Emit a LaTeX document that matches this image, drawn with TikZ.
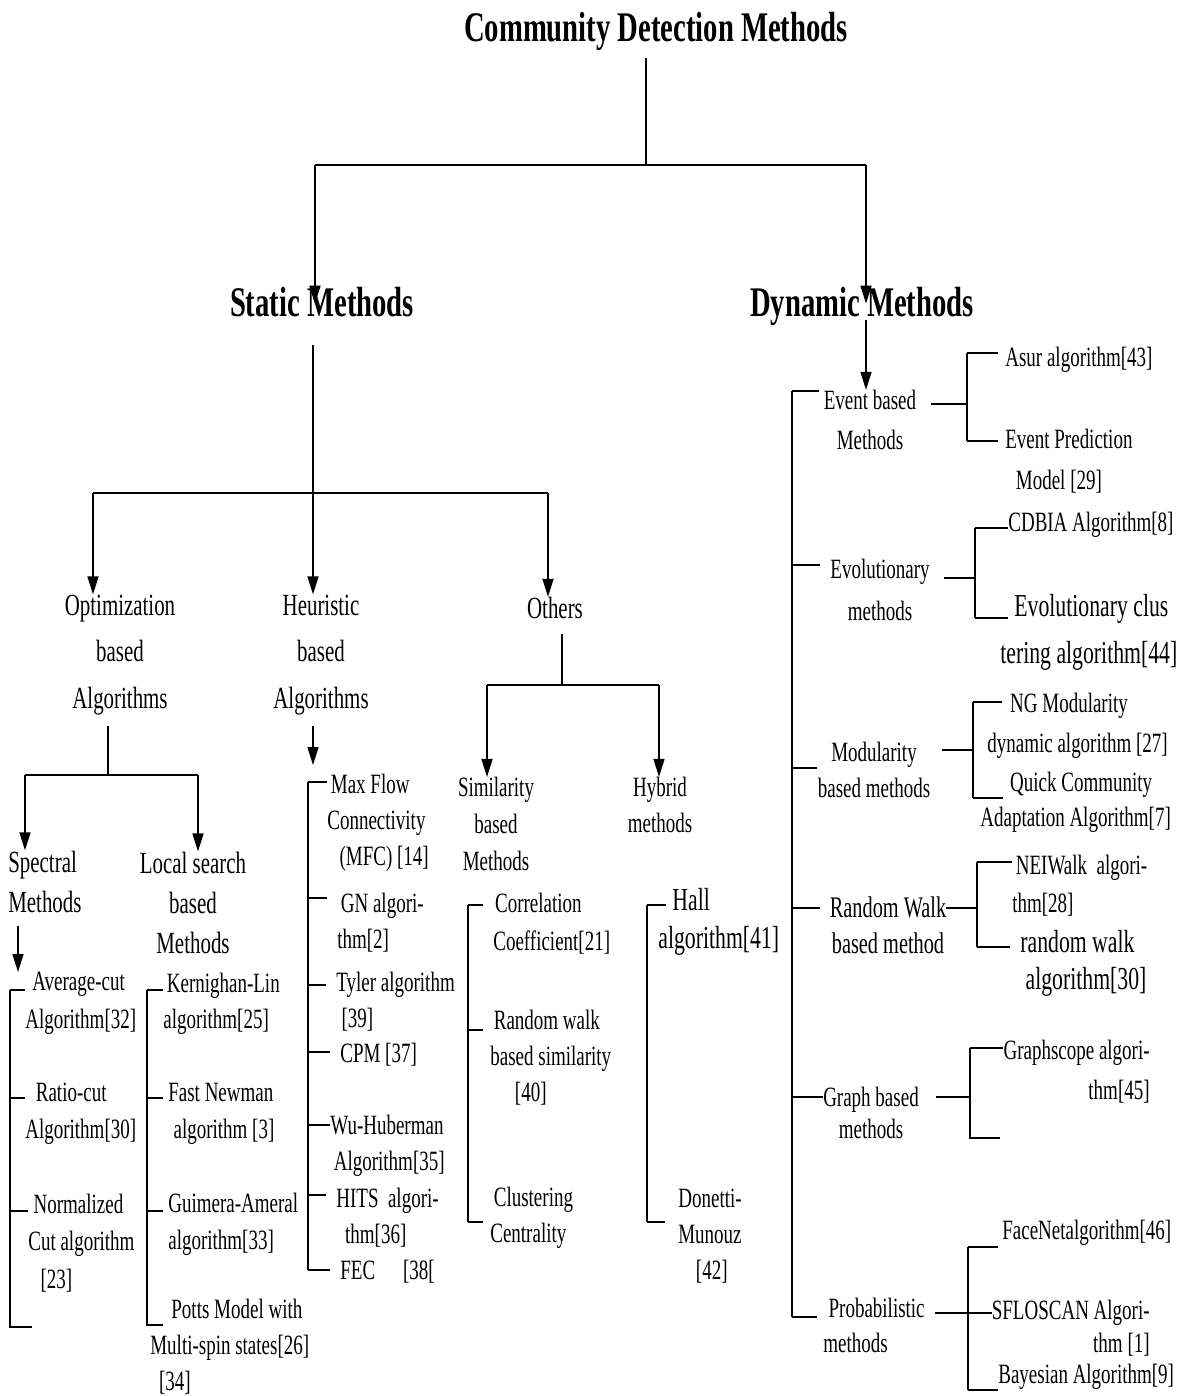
\documentclass[tikz,border=0pt]{standalone}
\usepackage{fontspec}
\setmainfont{Liberation Serif}[FakeStretch=0.68]
\newfontfamily\headfont{Liberation Serif}[FakeStretch=0.68]
\usepackage{tikz}
\usetikzlibrary{positioning, arrows.meta}

\begin{document}
\begin{tikzpicture}[
    x=0.02cm, y=-0.02cm,
    head/.style={inner sep=0pt, text height=0.7em, text depth=0.22em, font=\headfont\bfseries\fontsize{24}{28}\selectfont},
    grp/.style={inner sep=0pt, align=center, font=\fontsize{17.5}{#1}\selectfont},
    grp/.default=26.6,
    kind/.style={inner sep=0pt, align=center, font=\fontsize{15.9}{#1}\selectfont},
    kind/.default=21,
    alg/.style={inner sep=0pt, anchor=west, align=left, font=\fontsize{15.9}{#1}\selectfont},
    alg/.default=20.5,
    bigalg/.style={inner sep=0pt, anchor=west, align=left, font=\fontsize{18.2}{#1}\selectfont},
    bigalg/.default=24,
    ln/.style={line width=0.9pt},
    thinln/.style={line width=0.6pt},
    arr/.style={-{Triangle[length=0.36cm, width=0.22cm]}, line width=0.9pt}
]
\useasboundingbox[fill=white] (0,0) rectangle (1184,1396);

% top levels
\node[head] (root) at (656,37) {Community Detection Methods};
\node[head] (static) at (322,312) {Static Methods};
\node[head] (dynamic) at (862,312) {Dynamic Methods};

\coordinate (j0) at (646,165);
\coordinate (s0) at (315,165);
\coordinate (d0) at (866,165);
\draw[thinln, shorten <=0.26cm] (root.south -| j0) -- (j0);
\draw[ln] (s0) -- (d0);
\draw[arr] (s0) -- (s0 |- static.north);
\draw[arr] (d0) -- (d0 |- dynamic.north);

% static methods
\node[grp] (opt) at (120,655) {Optimization\\based\\Algorithms};
\node[grp] (heu) at (321,655) {Heuristic\\based\\Algorithms};
\node[grp] (oth) at (555,608) {Others};

\coordinate (sj) at (313,493);
\coordinate (o0) at (93,493);
\coordinate (ot0) at (548,493);
\draw[thinln, shorten <=0.5cm] (static.south -| sj) -- (sj);
\draw[ln] (o0) -- (ot0);
\draw[arr] (o0) -- (o0 |- opt.north);
\draw[arr] (sj) -- (sj |- heu.north);
\draw[arr] (ot0) -- (ot0 |- oth.north);

\node[grp=23.3, align=left, anchor=west] (spec) at (8,882) {Spectral\\Methods};
\node[grp=23] (loc) at (193,903) {Local search\\based\\Methods};
\node[kind] (sim) at (496,824) {Similarity\\based\\Methods};
\node[kind=20.4] (hyb) at (660,805) {Hybrid\\methods};

\coordinate (oq) at (108,775);
\coordinate (sp0) at (25,775);
\coordinate (lo0) at (198,775);
\draw[ln, shorten <=0.2cm] (opt.south -| oq) -- (oq);
\draw[ln] (sp0) -- (lo0);
\draw[arr] (sp0) -- (sp0 |- spec.north);
\draw[arr] (lo0) -- (lo0 |- loc.north);

\coordinate (oj) at (562,685);
\coordinate (sm0) at (487,685);
\coordinate (hy0) at (659,685);
\draw[ln, shorten <=0.3cm] (oth.south -| oj) -- (oj);
\draw[ln] (sm0) -- (hy0);
\draw[arr] (sm0) -- (sm0 |- sim.north);
\draw[arr] (hy0) -- (hy0 |- hyb.north);

\coordinate (spa) at (18,972);
\draw[arr, shorten <=0.24cm] (spec.south -| spa) -- (spa);
\coordinate (hta) at (313,765);
\draw[arr, shorten <=0.2cm] (heu.south -| hta) -- (hta);

% spectral
\node[alg=21.5] (avg) at (25,1003) {\hspace*{4pt}Average-cut\\Algorithm[32]};
\node[alg=21] (rat) at (25,1114) {\hspace*{6pt}Ratio-cut\\Algorithm[30]};
\node[alg=21.5] (nrm) at (28,1243) {\hspace*{3pt}Normalized\\Cut algorithm\\\hspace*{7pt}[23]};
\coordinate (sp1) at (10,990);
\coordinate (sp2) at (10,1098);
\coordinate (sp3) at (10,1211);
\coordinate (sp4) at (10,1327);
\coordinate (sp5) at (32,1327);
\draw[ln] (sp1) -- (sp4) -- (sp5);
\draw[ln] (sp1) -- (sp1 -| avg.west);
\draw[ln] (sp2) -- (sp2 -| rat.west);
\draw[ln] (sp3) -- (sp3 -| nrm.west);

% local search
\node[alg] (ker) at (163,1004) {\hspace*{2pt}Kernighan-Lin\\algorithm[25]};
\node[alg=21] (fnw) at (168,1114) {Fast Newman\\\hspace*{3pt}algorithm [3]};
\node[alg=21] (gui) at (168,1224) {Guimera-Ameral\\algorithm[33]};
\node[alg] (pot) at (150,1347) {\hspace*{12pt}Potts Model with\\Multi-spin states[26]\\\hspace*{5pt}[34]};
\coordinate (ls1) at (147,990);
\coordinate (ls2) at (147,1098);
\coordinate (ls3) at (147,1211);
\coordinate (ls4) at (147,1325);
\coordinate (ls5) at (163,1325);
\draw[ln] (ls1) -- (ls4) -- (ls5);
\draw[ln] (ls1) -- (ls1 -| ker.west);
\draw[ln, shorten >=0.1cm] (ls2) -- (ls2 -| fnw.west);
\draw[ln, shorten >=0.1cm] (ls3) -- (ls3 -| gui.west);

% heuristic
\node[alg] (mfc) at (327,823) {\hspace*{2pt}Max Flow\\Connectivity\\\hspace*{7pt}(MFC) [14]};
\node[alg] (gna) at (337,923) {\hspace*{2pt}GN algori-\\thm[2]};
\node[alg] (tyl) at (336,1002) {Tyler algorithm\\\hspace*{3pt}[39]};
\node[alg] (cpm) at (340,1055) {CPM [37]};
\node[alg] (wuh) at (330,1146) {Wu-Huberman\\\hspace*{2pt}Algorithm[35]};
\node[alg] (hit) at (336,1218) {HITS~~algori-\\\hspace*{5pt}thm[36]};
\node[alg] (fec) at (340,1272) {FEC\quad[38[};
\coordinate (hr1) at (308,782);
\coordinate (hr2) at (308,898);
\coordinate (hr3) at (308,985);
\coordinate (hr4) at (308,1052);
\coordinate (hr5) at (308,1125);
\coordinate (hr6) at (308,1195);
\coordinate (hr7) at (308,1270);
\draw[ln] (hr1) -- (hr7);
\draw[ln] (hr1) -- (hr1 -| mfc.west);
\draw[ln, shorten >=0.2cm] (hr2) -- (hr2 -| gna.west);
\draw[ln, shorten >=0.2cm] (hr3) -- (hr3 -| tyl.west);
\draw[ln, shorten >=0.2cm] (hr4) -- (hr4 -| cpm.west);
\draw[ln] (hr5) -- (hr5 -| wuh.west);
\draw[ln, shorten >=0.2cm] (hr6) -- (hr6 -| hit.west);
\draw[ln, shorten >=0.2cm] (hr7) -- (hr7 -| fec.west);

% similarity based
\node[alg=21.5] (cor) at (493,924) {\hspace*{1pt}Correlation\\Coefficient[21]};
\node[alg] (rws) at (490,1058) {\hspace*{2pt}Random walk\\based similarity\\\hspace*{14pt}[40]};
\node[alg] (clu) at (490,1218) {\hspace*{2pt}Clustering\\Centrality};
\coordinate (sm1) at (468,905);
\coordinate (sm2) at (468,1030);
\coordinate (sm3) at (468,1222);
\draw[ln] (sm1) -- (sm3);
\draw[ln, shorten >=0.2cm] (sm1) -- (sm1 -| cor.west);
\draw[ln, shorten >=0.14cm] (sm2) -- (sm2 -| rws.west);
\draw[ln, shorten >=0.14cm] (sm3) -- (sm3 -| clu.west);

% hybrid
\node[bigalg=22] (hal) at (658,922) {\hspace*{8pt}Hall\\algorithm[41]};
\node[alg=20.7] (don) at (678,1236) {Donetti-\\Munouz\\\hspace*{10pt}[42]};
\coordinate (hy1) at (647,905);
\coordinate (hy2) at (647,1222);
\draw[ln] (hy1) -- (hy2);
\draw[ln, shorten >=-0.15cm] (hy1) -- (hy1 -| hal.west);
\draw[ln, shorten >=0.26cm] (hy2) -- (hy2 -| don.west);

% dynamic methods
\node[kind=22.7] (evt) at (870,420) {Event based\\Methods};
\node[kind=24] (evo) at (880,590) {Evolutionary\\methods};
\node[kind=20] (mod) at (874,770) {Modularity\\based methods};
\node[kind=20.4, font=\fontsize{17}{20.4}\selectfont] (rw) at (888,925) {Random Walk\\based method};
\node[kind=18.7] (gph) at (871,1113) {Graph based\\methods};
\node[kind=20, align=left, anchor=west] (prob) at (823,1325) {\hspace*{3pt}Probabilistic\\methods};

\draw[arr] (dynamic.south -| d0) -- (d0 |- evt.north);
\coordinate (dy1) at (792,391);
\coordinate (dy2) at (792,565);
\coordinate (dy3) at (792,768);
\coordinate (dy4) at (792,908);
\coordinate (dy5) at (792,1097);
\coordinate (dy6) at (792,1317);
\draw[ln] (dy1) -- (dy6);
\draw[ln, shorten >=0.1cm] (dy1) -- (dy1 -| evt.west);
\draw[ln, shorten >=0.2cm] (dy2) -- (dy2 -| evo.west);
\draw[ln] (dy3) -- (dy3 -| mod.west);
\draw[ln, shorten >=0.2cm] (dy4) -- (dy4 -| rw.west);
\draw[ln] (dy5) -- (dy5 -| gph.west);
\draw[ln, shorten >=0.12cm] (dy6) -- (dy6 -| prob.west);

% event based
\node[alg] (asur) at (1005,360) {Asur algorithm[43]};
\node[alg=23.3] (evp) at (1005,461) {Event Prediction\\\hspace*{6pt}Model [29]};
\coordinate (ej) at (967,404);
\coordinate (ea) at (967,353);
\coordinate (eb) at (967,441);
\draw[ln, shorten <=0.28cm] (evt.east |- ej) -- (ej);
\draw[ln] (ea) -- (eb);
\draw[ln, shorten >=0.14cm] (ea) -- (ea -| asur.west);
\draw[ln, shorten >=0.14cm] (eb) -- (eb -| evp.west);

% evolutionary
\node[alg] (cdb) at (1008,525) {CDBIA Algorithm[8]};
\node[bigalg=26.6] (evc) at (1000,632) {\hspace*{8pt}Evolutionary clus\\tering algorithm[44]};
\coordinate (vj) at (975,578);
\coordinate (va) at (975,528);
\coordinate (vb) at (975,618);
\draw[ln, shorten <=0.28cm] (evo.east |- vj) -- (vj);
\draw[ln] (va) -- (vb);
\draw[ln] (va) -- (va -| cdb.west);
\draw[ln, shorten >=-0.16cm] (vb) -- (vb -| evc.west);

% modularity
\node[alg=22.7] (ngm) at (987,726) {\hspace*{13pt}NG Modularity\\dynamic algorithm [27]};
\node[alg=20] (qca) at (980,802) {\hspace*{17pt}Quick Community\\Adaptation Algorithm[7]};
\coordinate (mj) at (973,750);
\coordinate (ma) at (973,702);
\coordinate (mb) at (973,798);
\draw[ln, shorten <=0.22cm] (mod.east |- mj) -- (mj);
\draw[ln] (ma) -- (mb);
\draw[ln, shorten >=-0.3cm] (ma) -- (ma -| ngm.west);
\draw[ln, shorten >=-0.46cm] (mb) -- (mb -| qca.west);

% random walk
\node[alg=21.5] (nei) at (1012,886) {\hspace*{2pt}NEIWalk~~algori-\\thm[28]};
\node[bigalg=21] (rwa) at (1020,963) {random walk\\\hspace*{3pt}algorithm[30]};
\coordinate (rj) at (977,908);
\coordinate (ra) at (977,862);
\coordinate (rb) at (977,947);
\draw[ln] (rw.east |- rj) -- (rj);
\draw[ln] (ra) -- (rb);
\draw[ln] (ra) -- (ra -| nei.west);
\draw[ln, shorten >=0.2cm] (rb) -- (rb -| rwa.west);

% graph based
\node[alg=22.7, anchor=east, align=right] (gsc) at (1150,1072) {Graphscope algori-\\thm[45]};
\coordinate (gj) at (970,1097);
\coordinate (ga) at (970,1048);
\coordinate (gb) at (970,1138);
\coordinate (gc) at (1000,1138);
\draw[ln, shorten <=0.34cm] (gph.east |- gj) -- (gj);
\draw[ln] (ga) -- (gb) -- (gc);
\draw[ln] (ga) -- (ga -| gsc.west);

% probabilistic
\node[alg] (fac) at (1002,1233) {FaceNetalgorithm[46]};
\node[alg=18.7, anchor=east, align=right] (sfl) at (1150,1328) {SFLOSCAN Algori-\\thm [1]};
\node[alg] (bay) at (998,1377) {Bayesian Algorithm[9]};
\coordinate (pj) at (968,1313);
\coordinate (pa) at (968,1247);
\coordinate (pb) at (968,1390);
\draw[ln, shorten <=0.2cm] (prob.east |- pj) -- (pj);
\draw[ln] (pa) -- (pb);
\draw[ln, shorten >=0.08cm] (pa) -- (pa -| fac.west);
\draw[ln] (pj) -- (pj -| sfl.west);
\draw[ln] (pb) -- (pb -| bay.west);
\end{tikzpicture}
\end{document}
